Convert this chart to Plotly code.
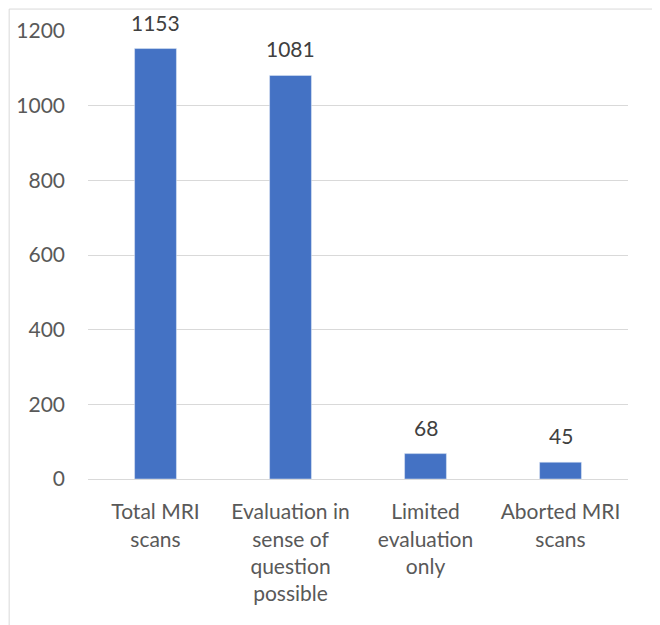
import plotly.graph_objects as go

# categories and counts
categories = [
    "Total MRI<br>scans",
    "Evaluation in<br>sense of<br>question<br>possible",
    "Limited<br>evaluation<br>only",
    "Aborted MRI<br>scans",
]
counts = [1153, 1081, 68, 45]
y_ticks = [0, 200, 400, 600, 800, 1000, 1200]

FONT = "Lato, Carlito, Calibri, sans-serif"
TEXT_COLOR = "#595959"
BAR_COLOR = "#4472C4"
GRID_COLOR = "#d9d9d9"
FONT_SIZE = 21

fig = go.Figure()

fig.add_trace(
    go.Bar(
        x=categories,
        y=counts,
        marker_color=BAR_COLOR,
        width=0.31,
        cliponaxis=False,
    )
)

# value labels above the bars
for cat, val in zip(categories, counts):
    fig.add_annotation(
        x=cat, y=val,
        text=str(val),
        showarrow=False,
        yanchor="bottom",
        yshift=12,
        font=dict(size=FONT_SIZE, color="#404040", family=FONT),
    )

# page puts the plot 8px in from the top-left, so shrink and shift to match
fig.update_layout(
    width=652,
    height=617,
    margin=dict(l=80, r=32, t=23, b=146),
    paper_bgcolor="white",
    plot_bgcolor="white",
    showlegend=False,
    font=dict(family=FONT, size=FONT_SIZE, color=TEXT_COLOR),
)

fig.update_yaxes(
    range=[0, 1200],
    tickvals=y_ticks,
    showgrid=True,
    gridcolor=GRID_COLOR,
    gridwidth=1,
    zeroline=False,
    showline=False,
    ticks="",
    automargin=False,
    ticklabelstandoff=22,
    tickfont=dict(size=FONT_SIZE, color=TEXT_COLOR),
)

fig.update_xaxes(
    showline=True,
    linecolor=GRID_COLOR,
    linewidth=1,
    ticks="",
    tickangle=0,
    automargin=False,
    ticklabelstandoff=14,
    tickfont=dict(size=FONT_SIZE, color=TEXT_COLOR),
)

# light frame around the whole chart
fig.add_shape(
    type="rect",
    xref="paper", yref="paper",
    x0=-0.146, x1=1.052, y0=-0.33, y1=1.049,
    line=dict(color="#d9d9d9", width=1),
    fillcolor="rgba(0,0,0,0)",
    layer="below",
)

fig.write_html("out.html")
